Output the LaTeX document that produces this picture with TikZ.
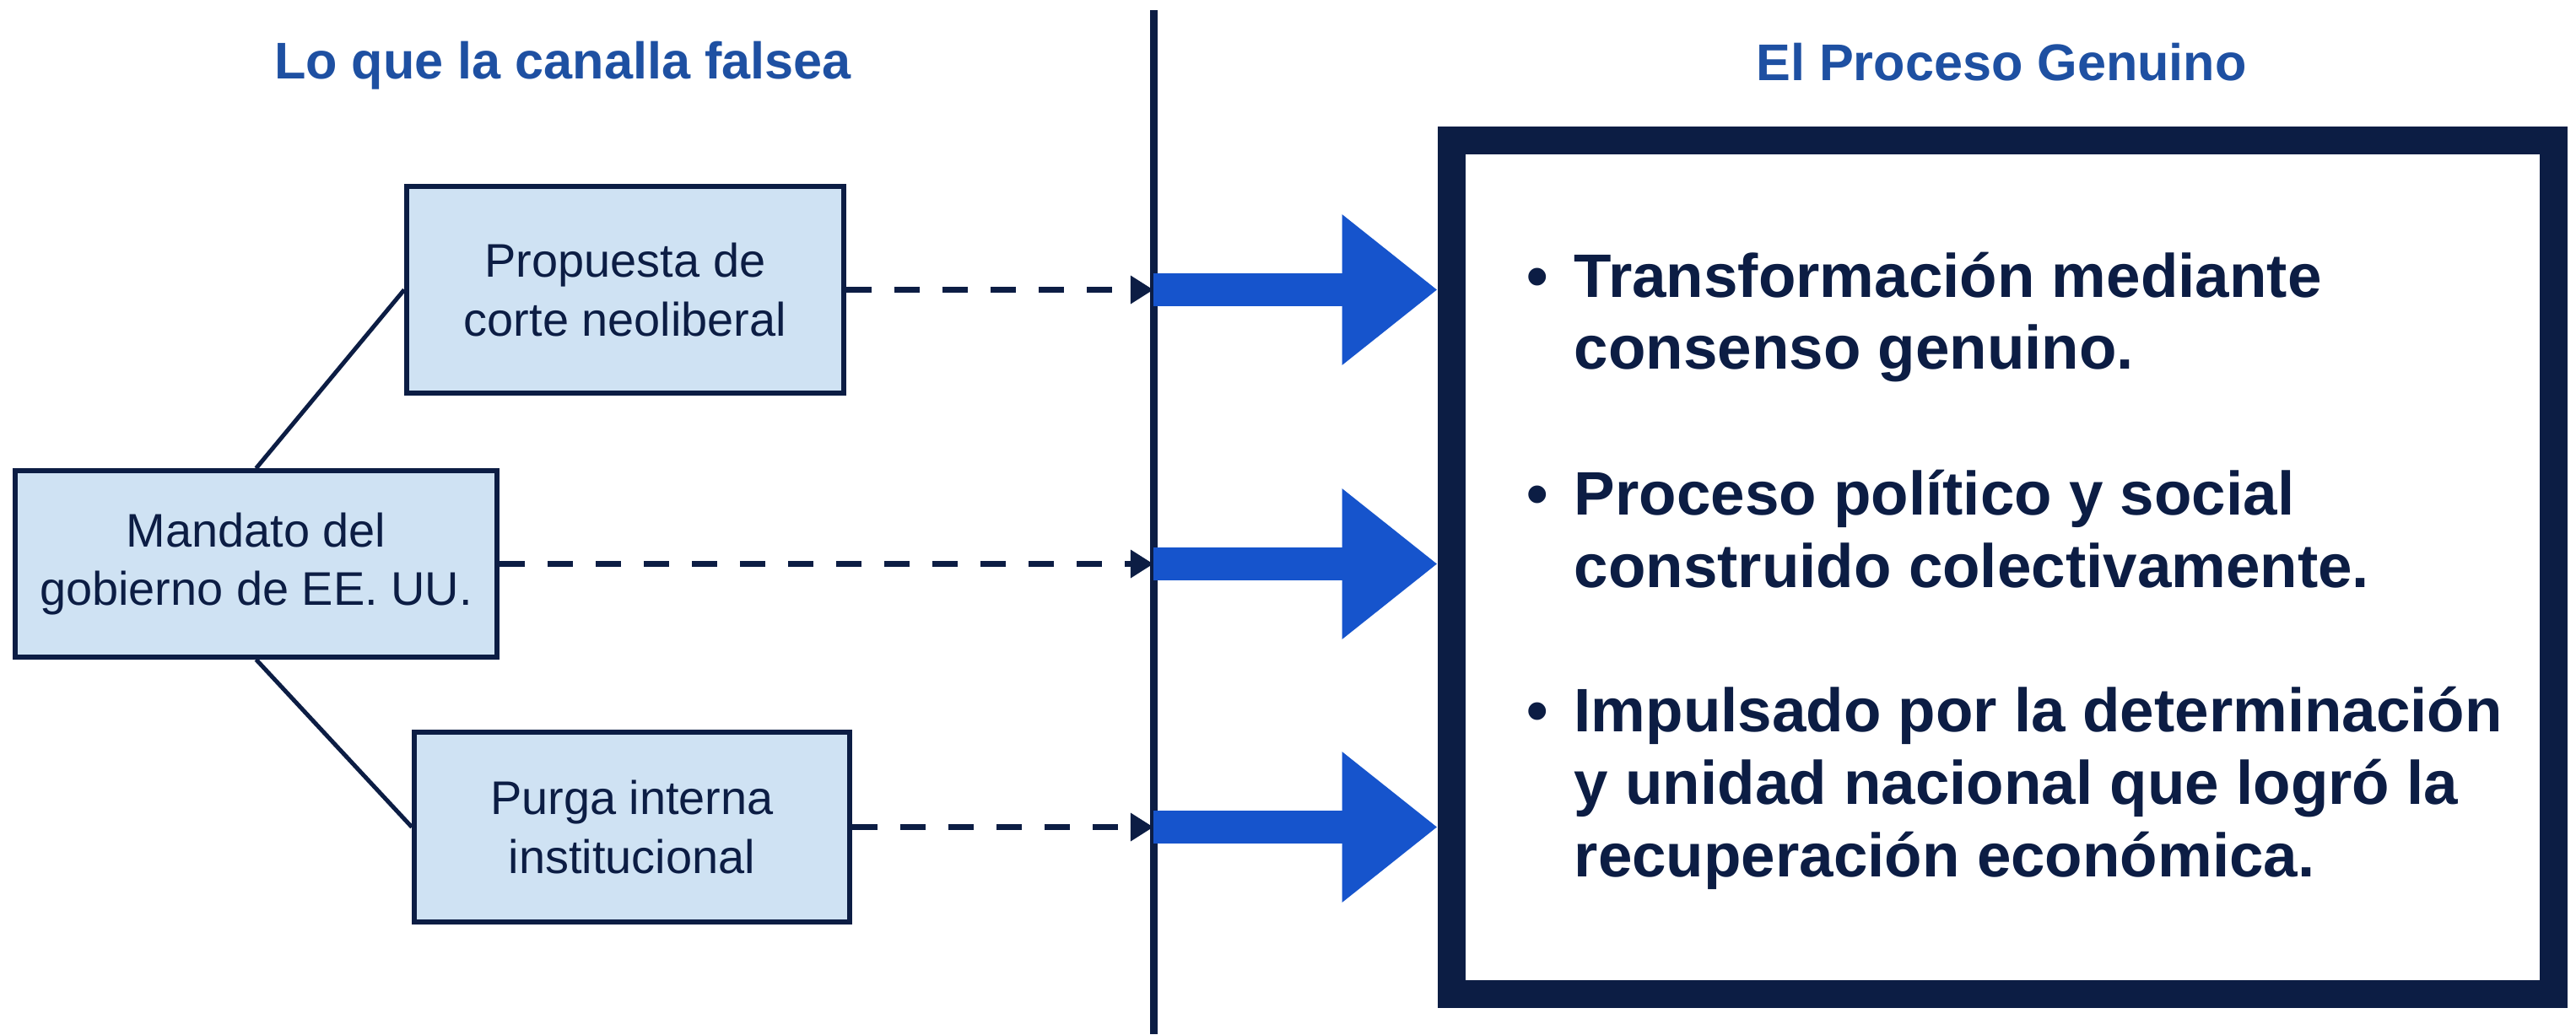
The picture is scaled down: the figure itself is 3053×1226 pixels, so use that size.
\documentclass[tikz,border=0pt]{standalone}
\usepackage{fontspec}
\setmainfont{Liberation Sans}
\usetikzlibrary{arrows.meta,positioning}

\definecolor{marine}{RGB}{12,29,68}
\definecolor{bleuclair}{RGB}{207,226,243}
\definecolor{bleutitre}{RGB}{30,80,162}
\definecolor{bleu}{RGB}{22,84,204}

\begin{document}
\begin{tikzpicture}[x=0.01cm,y=-0.01cm,
  boite/.style={draw=marine,line width=0.055cm,fill=bleuclair,text=marine,align=center,inner sep=0pt,font=\fontsize{15.9}{19.8}\selectfont},
  titre/.style={text=bleutitre,font=\fontsize{17.4}{20}\selectfont\bfseries},
  puce/.style={text=marine,inner sep=0pt,font=\fontsize{20.7}{24.5}\selectfont\bfseries},
  pointille/.style={draw=marine,line width=0.065cm,dash pattern=on 0.3cm off 0.27cm,-{Triangle[length=0.27cm,width=0.32cm]}},
  fleche/.style={draw=bleu,line width=0.39cm,-{Triangle[length=1.13cm,width=1.71cm]}}]

\useasboundingbox[fill=white] (0,0) rectangle (3053,1226);

% Titres
\node[titre,anchor=base] (tgauche) at (667,93) {Lo que la canalla falsea};
\node[titre,anchor=base] (tdroite) at (2372,95) {El Proceso Genuino};

% Ligne de separation
\coordinate (vh) at (1367,12);
\coordinate (vb) at (1367,1226);
\draw[marine,line width=0.09cm] (vh) -- (vb);

% Boites a gauche
\node[boite,minimum width=5.18cm,minimum height=2.45cm] (prop) at (741,343.5) {Propuesta de\\corte neoliberal};
\node[boite,minimum width=5.71cm,minimum height=2.21cm] (mand) at (303.5,668.5) {Mandato del\\gobierno de EE.~UU.};
\node[boite,minimum width=5.16cm,minimum height=2.25cm] (purga) at (749,980.5) {Purga interna\\institucional};

\draw[marine,line width=0.05cm] (mand.north) -- (prop.west);
\draw[marine,line width=0.05cm] (mand.south) -- (purga.west);

% Fleches en pointille
\draw[pointille] (prop.east) -- (prop.east -| vh);
\draw[pointille] (mand.east) -- (mand.east -| vh);
\draw[pointille] (purga.east) -- (purga.east -| vh);

% Cadre a droite
\node[draw=marine,line width=0.33cm,minimum width=13.06cm,minimum height=10.12cm,inner sep=0pt] (cadre) at (2373.5,672.5) {};

% Grosses fleches (en bleu)
\draw[fleche] (prop.east -| vh) -- (prop.east -| cadre.west);
\draw[fleche] (mand.east -| vh) -- (mand.east -| cadre.west);
\draw[fleche] (purga.east -| vh) -- (purga.east -| cadre.west);

% Texte du cadre
\node[puce,anchor=base] (b1) at (1822,352) {\textbullet};
\node[puce,anchor=base west] (l1a) at (1865,352) {Transformación mediante};
\node[puce,anchor=base west] (l1b) at (1865,437) {consenso genuino.};

\node[puce,anchor=base] (b2) at (1822,610) {\textbullet};
\node[puce,anchor=base west] (l2a) at (1865,610) {Proceso político y social};
\node[puce,anchor=base west] (l2b) at (1865,696) {construido colectivamente.};

\node[puce,anchor=base] (b3) at (1822,867) {\textbullet};
\node[puce,anchor=base west] (l3a) at (1865,867) {Impulsado por la determinación};
\node[puce,anchor=base west] (l3b) at (1865,953) {y unidad nacional que logró la};
\node[puce,anchor=base west] (l3c) at (1865,1039) {recuperación económica.};

\end{tikzpicture}
\end{document}
